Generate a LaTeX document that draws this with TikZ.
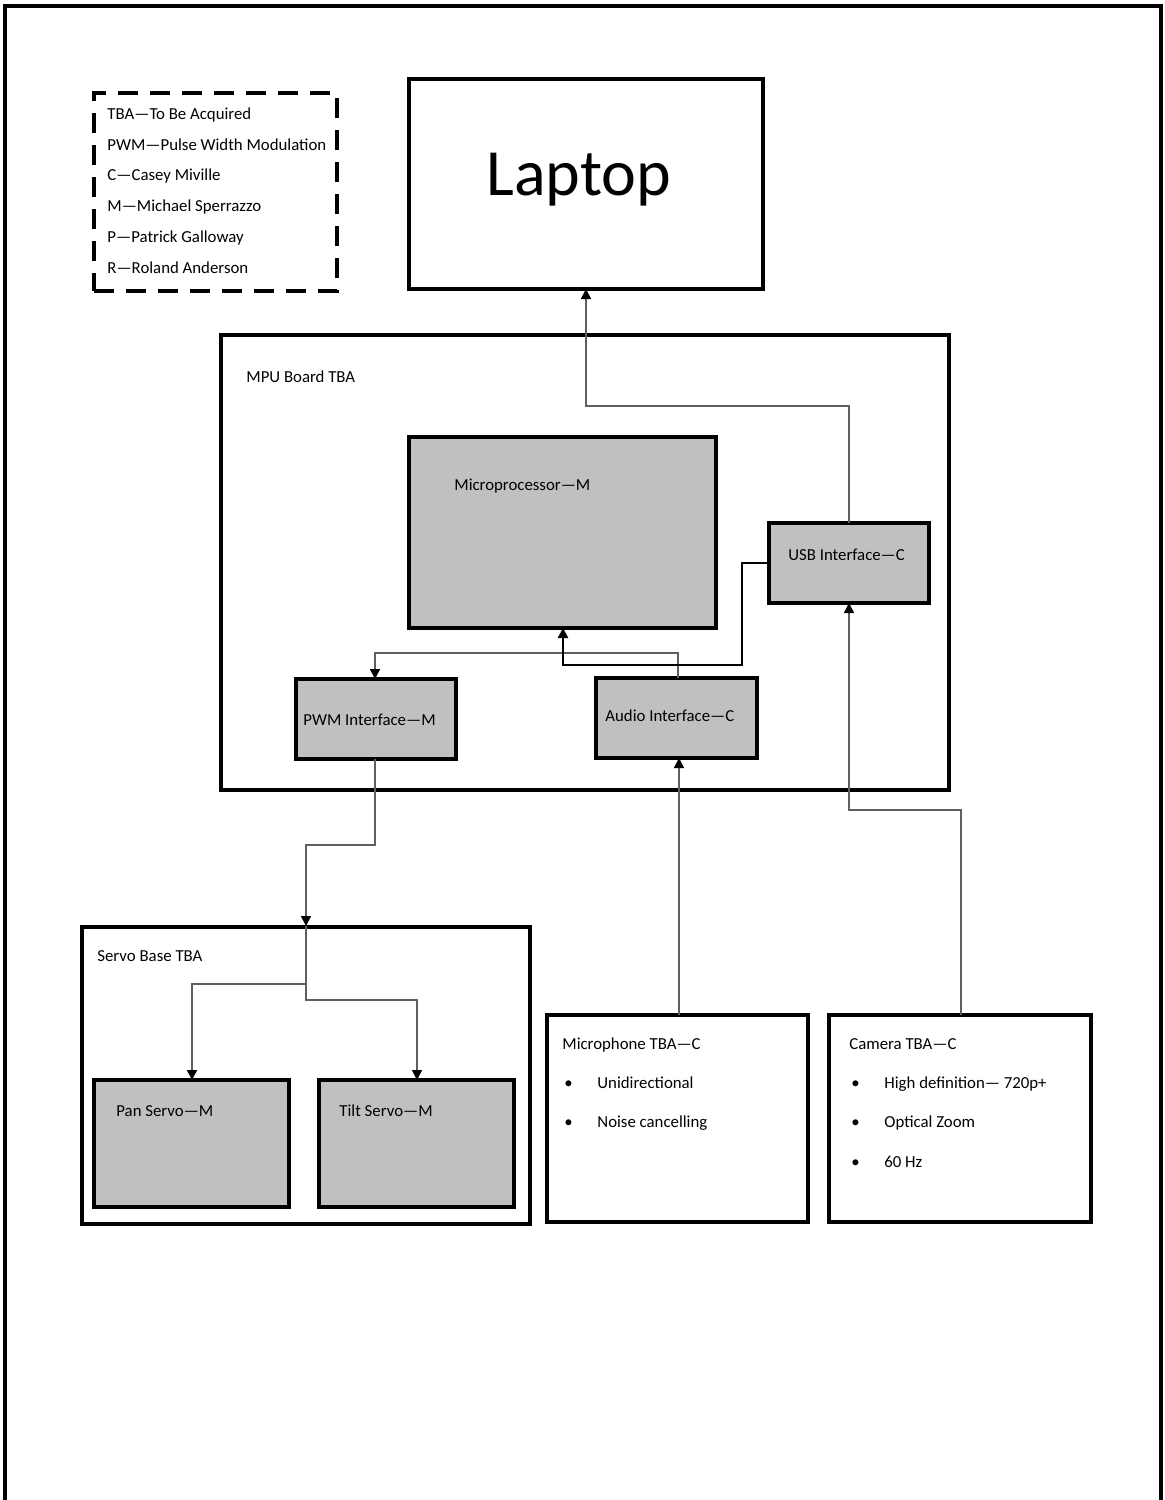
\documentclass[tikz,border=0pt]{standalone}
\usepackage{fontspec}
\setmainfont{Carlito}
\usetikzlibrary{arrows.meta}
\definecolor{boxgray}{RGB}{192,192,192}
\definecolor{wire}{RGB}{95,95,95}
\begin{document}
\begin{tikzpicture}[x=0.5pt,y=-0.5pt,
  wh/.style 2 args={minimum width=#1*0.5pt,minimum height=#2*0.5pt},
  box/.style={draw=black,line width=2pt,fill=white,anchor=north west,inner sep=0pt,outer sep=0pt},
  unit/.style={box,fill=boxgray},
  lbl/.style={anchor=base west,inner sep=0pt,font=\fontsize{8.4pt}{10pt}\selectfont},
  wireline/.style={draw=wire,line width=0.8pt},
  arr/.style={wireline,-{Triangle[length=5pt,width=5pt,color=black]}},
]
\useasboundingbox (0,0) rectangle (1165,1500);
% page frame, open at the bottom
\draw[line width=2pt] (5,1500) -- (5,6) -- (1161,6) -- (1161,1500);

% legend
\node[box,fill=none,dash pattern=on 10pt off 6pt,wh={243}{198}] (legend) at (94,93) {};
\foreach \t/\y [count=\i] in {TBA—To Be Acquired/114, PWM—Pulse Width Modulation/145,
   C—Casey Miville/175, M—Michael Sperrazzo/206, P—Patrick Galloway/237, R—Roland Anderson/268}
  \node[lbl] (leg\i) at (107,\y+5) {\t};

% laptop
\node[box,wh={354}{210}] (laptop) at (409,79) {};
\node (laptoptext) at (579,180) {\fontsize{33pt}{38pt}\selectfont Laptop};

% MPU board
\node[box,fill=none,wh={728}{455}] (mpu) at (221,335) {};
\node[lbl] (mpulbl) at (246,382) {MPU Board TBA};
\node[unit,wh={307}{191}] (cpu) at (409,437) {};
\node[lbl] (cpulbl) at (454,490) {Microprocessor—M};
\node[unit,wh={160}{80}] (usb) at (769,523) {};
\node[lbl] (usblbl) at (788,560) {USB Interface—C};
\node[unit,wh={160}{80}] (pwm) at (296,679) {};
\node[lbl] (pwmlbl) at (303,725) {PWM Interface—M};
\node[unit,wh={161}{80}] (audio) at (596,678) {};
\node[lbl] (audiolbl) at (605,721) {Audio Interface—C};

% servo base
\node[box,fill=none,wh={448}{297}] (servo) at (82,927) {};
\node[lbl] (servolbl) at (97,961) {Servo Base TBA};
\node[unit,wh={195}{127}] (pan) at (94,1080) {};
\node[lbl] (panlbl) at (116,1116) {Pan Servo—M};
\node[unit,wh={195}{127}] (tilt) at (319,1080) {};
\node[lbl] (tiltlbl) at (339,1116) {Tilt Servo—M};

% microphone
\node[box,wh={261}{207}] (mic) at (547,1015) {};
\node[lbl] (miclbl) at (562,1049) {Microphone TBA—C};
\node[lbl] (micb1) at (564,1088) {•};
\node[lbl] (mict1) at (597,1088) {Unidirectional};
\node[lbl] (micb2) at (564,1127) {•};
\node[lbl] (mict2) at (597,1127) {Noise cancelling};

% camera
\node[box,wh={262}{207}] (cam) at (829,1015) {};
\node[lbl] (camlbl) at (849,1049) {Camera TBA—C};
\node[lbl] (camb1) at (851,1088) {•};
\node[lbl] (camt1) at (884,1088) {High definition— 720p+};
\node[lbl] (camb2) at (851,1127) {•};
\node[lbl] (camt2) at (884,1127) {Optical Zoom};
\node[lbl] (camb3) at (851,1167) {•};
\node[lbl] (camt3) at (884,1167) {60 Hz};

% connectors
\coordinate (split) at (306,926);
\draw[arr] (usb.north) -- (849,406) -- (586,406) -- (laptop.south -| 586,0);
\draw[arr] (audio.north -| 678,0) -- (678,653) -- (375,653) -- (pwm.north -| 375,0);
\draw[line width=1.1pt,-{Triangle[length=5pt,width=5pt]}] (usb.west |- 0,563) -- (742,563) -- (742,665) -- (563,665) -- (cpu.south -| 563,0);
\draw[arr] (mic.north -| 679,0) -- (audio.south -| 679,0);
\draw[arr] (cam.north -| 961,0) -- (961,810) -- (849,810) -- (usb.south);
\draw[arr] (pwm.south -| 375,0) -- (375,845) -- (306,845) -- (split);
\draw[arr] (split) -- (306,984) -- (192,984) -- (pan.north -| 192,0);
\draw[arr] (split) -- (306,1000) -- (417,1000) -- (tilt.north -| 417,0);
\end{tikzpicture}
\end{document}
